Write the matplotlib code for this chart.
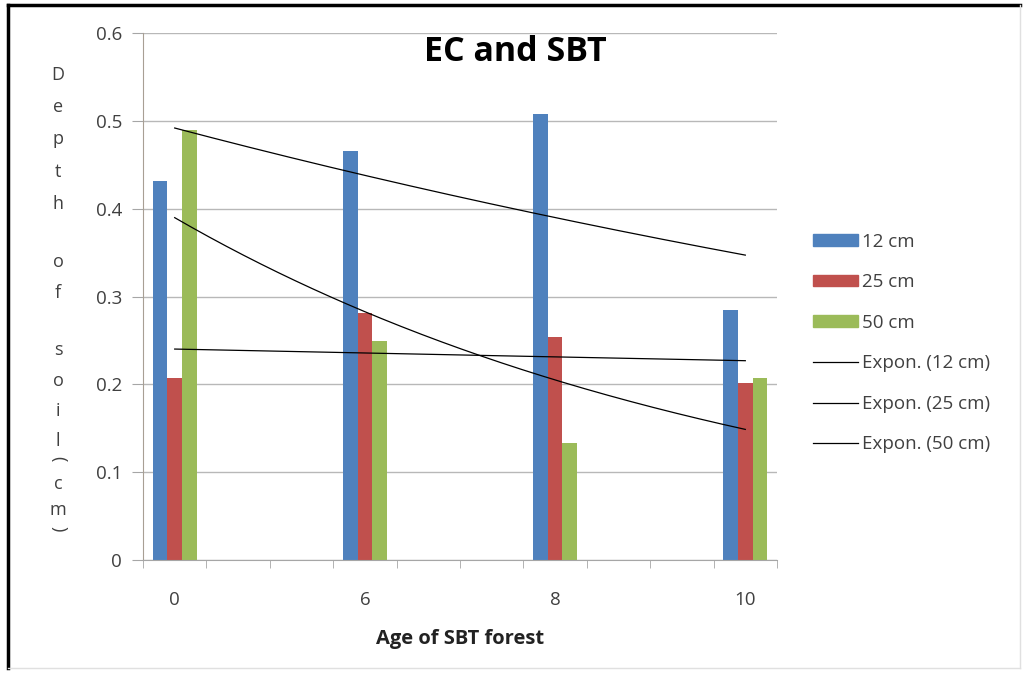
"""
EC and SBT - bar chart with exponential trend lines
"""

import numpy as np
import matplotlib
matplotlib.use("Agg")
import matplotlib.pyplot as plt
from matplotlib.lines import Line2D
from matplotlib.patches import Patch

# Categories on the axis (Excel sheet had empty rows between the ages)
age_labels = ["0", "", "", "6", "", "", "8", "", "", "10"]
ages = ["0", "6", "8", "10"]

# Soil depth values
depth_12cm = [0.432, 0.466, 0.508, 0.285]
depth_25cm = [0.207, 0.281, 0.254, 0.201]
depth_50cm = [0.490, 0.249, 0.133, 0.207]

series_names = ["12 cm", "25 cm", "50 cm"]
colors = ["#4F81BD", "#C0504D", "#9BBB59"]

FONT = ["Open Sans", "DejaVu Sans"]
plt.rcParams["font.family"] = FONT

fig = plt.figure(figsize=(10.26, 6.75), dpi=100)
ax = fig.add_axes([143 / 1026, 1 - 560 / 675, 634 / 1026, 527 / 675])

# positions of the filled categories
x_data = np.array([i for i, lab in enumerate(age_labels) if lab != ""])

bar_w = 0.23
offsets = [-bar_w, 0, bar_w]
all_series = [depth_12cm, depth_25cm, depth_50cm]

for vals, off, col in zip(all_series, offsets, colors):
    ax.bar(x_data + off, vals, width=bar_w, color=col, zorder=2)

# Exponential trend lines (fit on Excel's 1-based category index)
xs = np.linspace(x_data[0], x_data[-1], 200)
for vals in all_series:
    k, b = np.polyfit(x_data + 1, np.log(vals), 1)
    ax.plot(xs, np.exp(b + k * (xs + 1)), color="black", lw=0.9, zorder=3)

# axes look
ax.set_xlim(-0.5, len(age_labels) - 0.5)
ax.set_ylim(0, 0.6)
ax.set_yticks(np.arange(0, 0.61, 0.1))
ax.set_yticklabels(["0", "0.1", "0.2", "0.3", "0.4", "0.5", "0.6"])
ax.grid(axis="y", color="#b8b8b8", lw=1, zorder=0)
ax.set_axisbelow(True)

ax.set_xticks(x_data)
ax.set_xticklabels(ages)
ax.set_xticks(np.arange(-0.5, len(age_labels), 1), minor=True)
ax.tick_params(axis="x", which="major", length=0, pad=22, labelsize=13.5,
               labelcolor="#404040")
ax.tick_params(axis="x", which="minor", length=6, color="#a6a6a6",
               direction="out")
ax.tick_params(axis="y", length=8, color="#a6a6a6", pad=7, labelsize=13.5,
               labelcolor="#404040")

for side in ["top", "right"]:
    ax.spines[side].set_visible(False)
ax.spines["left"].set_color("#a89f94")
ax.spines["bottom"].set_color("#a6a6a6")

# title inside the plot area
fig.text(515 / 1026, 1 - 52 / 675, "EC and SBT", ha="center", va="center",
         fontsize=24.5, fontweight="bold", color="black")

ax.set_xlabel("Age of SBT forest", fontsize=14.5, fontweight="bold",
              color="#222222", labelpad=15)

# stacked y label, one character per row (brackets turned sideways)
ylab_chars = ["D", "e", "p", "t", "h", "o", "f", "s", "o", "i", "l",
              "(", "c", "m", ")"]
ylab_pix = [75, 107, 139, 172, 204, 262, 293, 350, 381, 411, 441,
            459, 484, 510, 529]
for ch, yp in zip(ylab_chars, ylab_pix):
    rot = -90 if ch in "()" else 0
    fig.text(58 / 1026, 1 - yp / 675, ch, ha="center", va="center",
             fontsize=13, color="#404040", rotation=rot)

# legend
handles = [Patch(color=c) for c in colors]
handles += [Line2D([0], [0], color="black", lw=0.9) for _ in range(3)]
labels = series_names + ["Expon. (%s)" % n for n in series_names]
fig.legend(handles, labels, loc="center left",
           bbox_to_anchor=(796 / 1026, 1 - 343 / 675), frameon=False,
           fontsize=13.5, handlelength=2.4, handleheight=0.55,
           handletextpad=0.2, labelspacing=1.2, labelcolor="#404040")

# outer frame of the picture
fig.add_artist(Line2D([8 / 1026, 8 / 1026], [1 - 668 / 675, 1 - 5 / 675],
                      color="black", lw=2.5, transform=fig.transFigure))
fig.add_artist(Line2D([8 / 1026, 1020 / 1026], [1 - 5 / 675, 1 - 5 / 675],
                      color="black", lw=2.5, transform=fig.transFigure))
fig.add_artist(Line2D([1020 / 1026, 1020 / 1026], [1 - 668 / 675, 1 - 5 / 675],
                      color="#e0e0e0", lw=1, transform=fig.transFigure))
fig.add_artist(Line2D([8 / 1026, 1020 / 1026], [1 - 668 / 675, 1 - 668 / 675],
                      color="#e0e0e0", lw=1, transform=fig.transFigure))

fig.savefig("out.png", dpi=100)
